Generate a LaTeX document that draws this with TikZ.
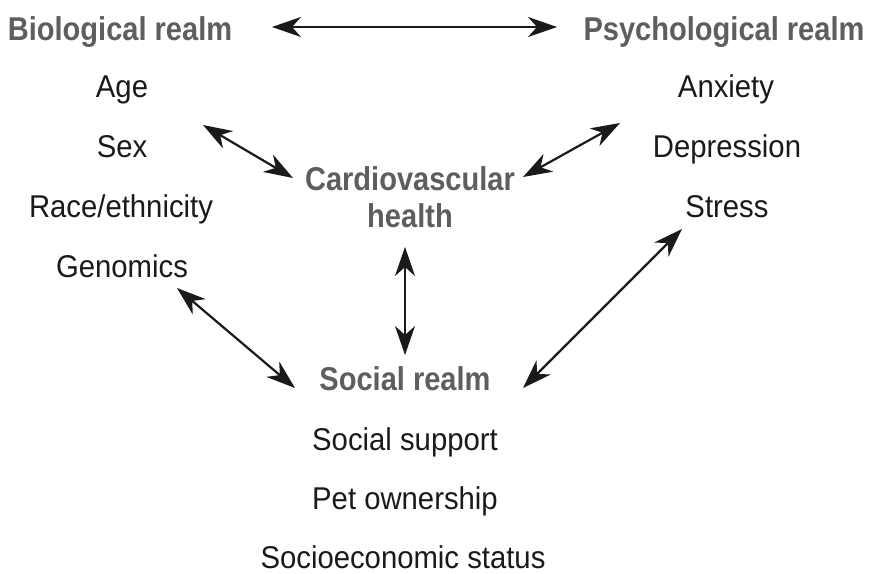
\documentclass[tikz,border=0pt]{standalone}
\usepackage{fontspec}
\setmainfont[FakeStretch=0.93]{Liberation Sans}
\newfontfamily\headfont[FakeStretch=0.88]{Liberation Sans}
\usetikzlibrary{arrows.meta}
\definecolor{headgray}{HTML}{5E5E5E}
\definecolor{bodyink}{HTML}{1A1A1A}
\begin{document}
\begin{tikzpicture}[x=1pt,y=-1pt,
  item/.style={anchor=base,inner sep=0pt,text=bodyink,font=\fontsize{31.5}{36}\selectfont},
  head/.style={anchor=base,inner sep=0pt,text=headgray,font=\headfont\bfseries\fontsize{33}{37}\selectfont},
  link/.style={draw=bodyink,line width=2.2pt,{Stealth[length=29pt,width=20pt,inset=9pt]}-{Stealth[length=29pt,width=20pt,inset=9pt]}}]
\useasboundingbox (0,0) rectangle (870,573);
% headings
\node[head] (bio) at (120,40) {Biological realm};
\node[head] (psy) at (724,40) {Psychological realm};
\node[head,align=center] (cv) at (410,227) {Cardiovascular\\health};
\node[head] (soc) at (405,390) {Social realm};
% biological items
\node[item] (age) at (122,97) {Age};
\node[item] (sex) at (122,157) {Sex};
\node[item] (race) at (121,217) {Race/ethnicity};
\node[item] (gen) at (122,277) {Genomics};
% psychological items
\node[item] (anx) at (726,97) {Anxiety};
\node[item] (dep) at (727,157) {Depression};
\node[item] (str) at (727,217) {Stress};
% social items
\node[item] (sup) at (405,450) {Social support};
\node[item] (pet) at (405,509) {Pet ownership};
\node[item] (ses) at (403,568) {Socioeconomic status};
% arrow end points
\coordinate (bioR) at (272,27);
\coordinate (psyL) at (557,27);
\coordinate (sexR) at (203,125);
\coordinate (cvL) at (293,178);
\coordinate (cvR) at (523,177);
\coordinate (depL) at (620,123);
\coordinate (cvB) at (405,247);
\coordinate (socT) at (405,355);
\coordinate (genR) at (177,288);
\coordinate (socL) at (295,388);
\coordinate (strL) at (682,229);
\coordinate (socR) at (523,388);
% connectors
\draw[link] (bioR) -- (psyL);
\draw[link] (sexR) -- (cvL);
\draw[link] (cvR) -- (depL);
\draw[link] (cvB) -- (socT);
\draw[link] (genR) -- (socL);
\draw[link] (strL) -- (socR);
\end{tikzpicture}
\end{document}
